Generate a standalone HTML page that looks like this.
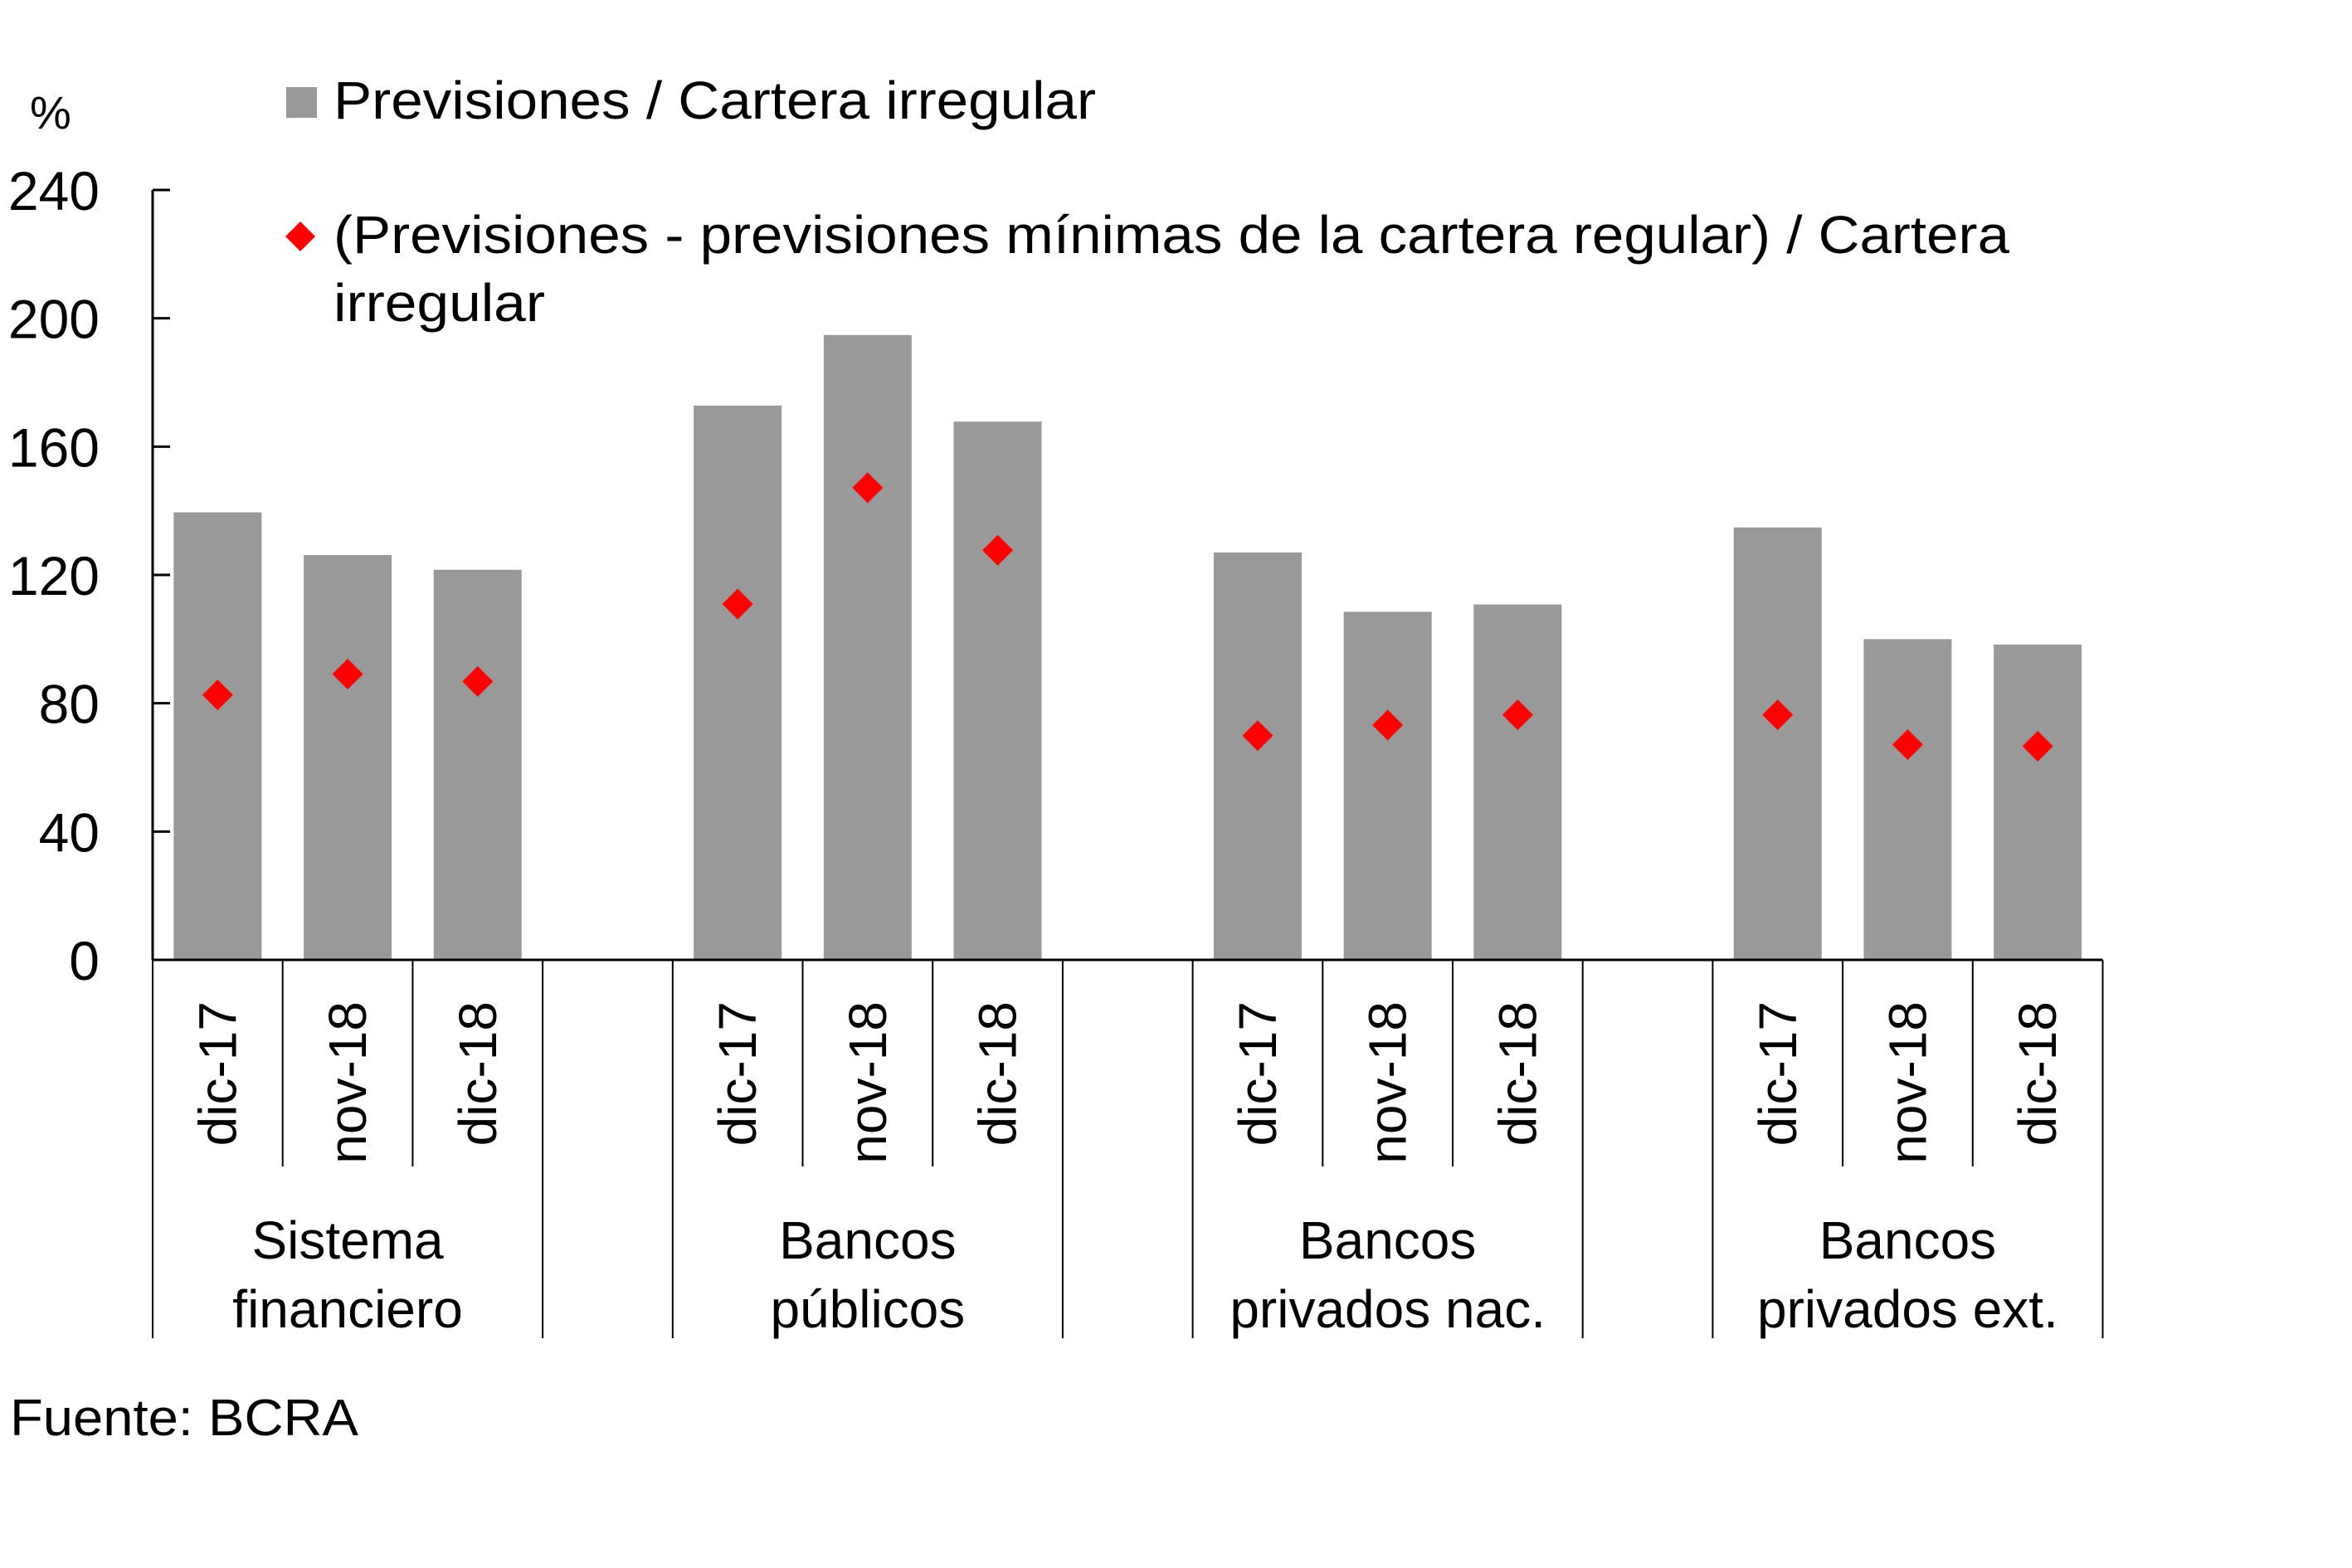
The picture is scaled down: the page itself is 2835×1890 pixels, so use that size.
<!DOCTYPE html>
<html><head><meta charset="utf-8"><style>
html,body{margin:0;padding:0;background:#fff}
svg{display:block}
text{font-family:"Liberation Sans Narrow","Liberation Sans",sans-serif;fill:#000}
</style></head><body>
<svg id="chart" width="2835" height="1890" viewBox="0 0 2835 1890">
<g id="grid"></g>
</svg>
<script>
const groups = ["Sistema|financiero","Bancos|públicos","Bancos|privados nac.","Bancos|privados ext."];
const periods = ["dic-17","nov-18","dic-18"];
const barValues = [139.5,126.2,121.6, 172.8,194.8,167.8, 127,108.5,110.8, 134.8,100,98.3];
const diamondValues = [82.6,89.1,86.8, 110.9,147.2,127.7, 69.9,73.2,76.4, 76.4,67.1,66.6];
const yTicks = [0,40,80,120,160,200,240];

const NS="http://www.w3.org/2000/svg";
const svg=document.getElementById('chart');
const X0=184, SLOT=156.7, Y0=1157, YMAX=240, YTOP=229;
function y(v){return Y0-(v/YMAX)*(Y0-YTOP);}
function slotX(i){return X0+i*SLOT;}
function el(tag,attrs,txt){const e=document.createElementNS(NS,tag);for(const k in attrs)e.setAttribute(k,attrs[k]);if(txt!==undefined)e.textContent=txt;svg.appendChild(e);return e;}

barValues.forEach((v,i)=>{
  const g=Math.floor(i/3), p=i%3, s=g*4+p;
  const cx=slotX(s)+SLOT/2;
  const r=el('rect',{x:cx-53,y:y(v),width:106,height:Y0-y(v),fill:'#999999'});
  
  
});
diamondValues.forEach((v,i)=>{
  const g=Math.floor(i/3), p=i%3, s=g*4+p;
  const cx=slotX(s)+SLOT/2, cy=y(v), h=18.5;
  const d=el('polygon',{points:`${cx},${cy-h} ${cx+h},${cy} ${cx},${cy+h} ${cx-h},${cy}`,fill:'#ff0000'});
  
  
});

const ya=el('line',{x1:X0,y1:YTOP,x2:X0,y2:Y0,stroke:'#000','stroke-width':3});


yTicks.forEach(t=>{
  el('line',{x1:X0,y1:y(t),x2:X0+21,y2:y(t),stroke:'#000','stroke-width':3});
  const tl=el('text',{x:120,y:y(t)+24,'font-size':66,'text-anchor':'end'},String(t));
  
  
});
const xa=el('line',{x1:X0,y1:Y0,x2:slotX(15),y2:Y0,stroke:'#000','stroke-width':3});


for(let s=0;s<=15;s++){
  const isGroup=(s%4===0)||s===3||s===7||s===11||s===15;
  el('line',{x1:slotX(s),y1:Y0,x2:slotX(s),y2:isGroup?1613:1406,stroke:'#000','stroke-width':2});
}
groups.forEach((gname,g)=>{
  periods.forEach((p,pi)=>{
    const cx=slotX(g*4+pi)+SLOT/2;
    const t=el('text',{x:0,y:0,'font-size':64,'text-anchor':'end',transform:`translate(${cx+22},1207) rotate(-90)`},p);
    
    
  });
  const gc=slotX(g*4)+SLOT*1.5;
  const parts=gname.split('|');
  const t1=el('text',{x:gc,y:1517,'font-size':64,'text-anchor':'middle'},parts[0]);
  
  
  const t2=el('text',{x:gc,y:1600,'font-size':64,'text-anchor':'middle'},parts[1]);
  
  
});
</script>
<svg style="position:absolute;left:0;top:0" width="2835" height="1890">
<text x="36" y="155" font-size="56">%</text>
<rect x="345" y="105" width="37" height="37" fill="#999999"/>
<text x="402" y="143" font-size="64" textLength="919" lengthAdjust="spacingAndGlyphs">Previsiones / Cartera irregular</text>
<polygon points="362,267 380,285 362,303 344,285" fill="#ff0000"/>
<text x="402" y="305" font-size="64" textLength="2020" lengthAdjust="spacingAndGlyphs">(Previsiones - previsiones mínimas de la cartera regular) / Cartera</text>
<text x="402" y="387" font-size="64" textLength="255" lengthAdjust="spacingAndGlyphs">irregular</text>
<text x="12" y="1730" font-size="62" textLength="420" lengthAdjust="spacingAndGlyphs">Fuente: BCRA</text>
</svg>
</body></html>
